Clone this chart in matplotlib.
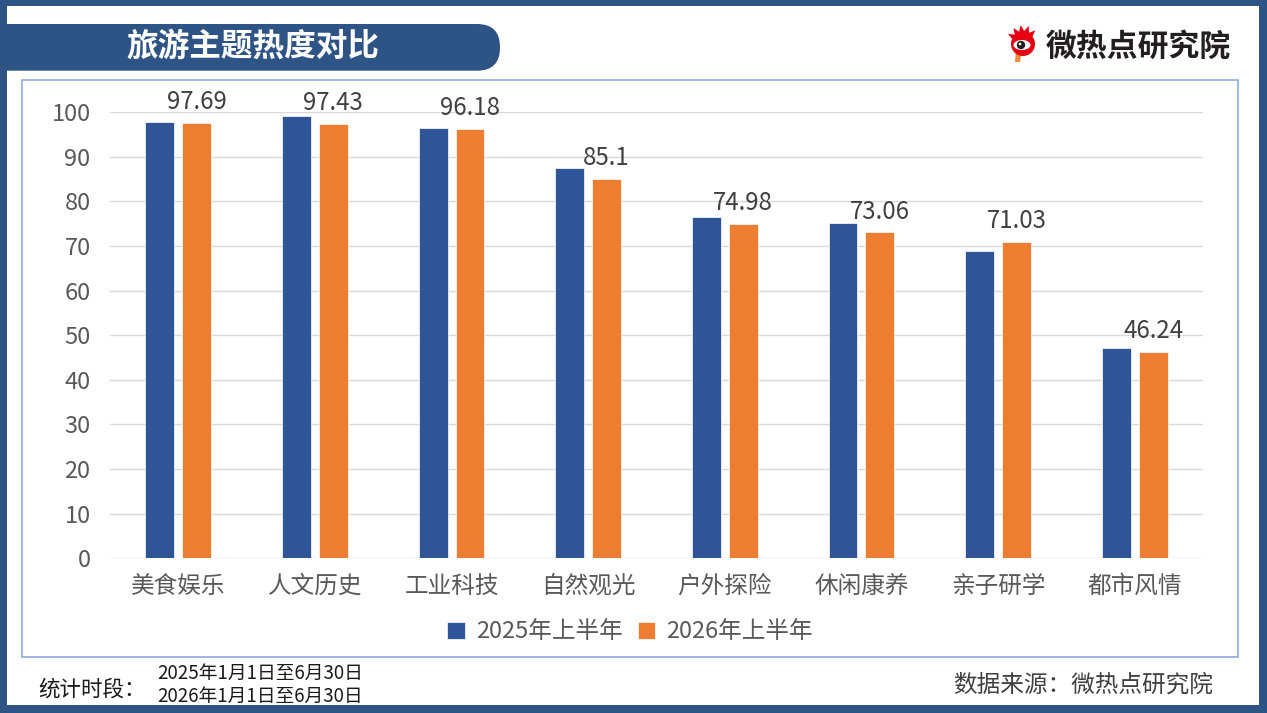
import numpy as np
import matplotlib
matplotlib.use("Agg")
import matplotlib.pyplot as plt
from matplotlib.transforms import Affine2D
from matplotlib.patches import Rectangle, FancyBboxPatch, Polygon, Circle, Ellipse

plt.rcParams['font.family'] = ['Noto Sans CJK SC', 'DejaVu Sans']

categories = ["美食娱乐", "人文历史", "工业科技", "自然观光", "户外探险", "休闲康养", "亲子研学", "都市风情"]
series_names = ["2025年上半年", "2026年上半年"]
values_2025 = [97.9, 99.1, 96.4, 87.5, 76.5, 75.2, 68.9, 47.1]
values_2026 = [97.69, 97.43, 96.18, 85.1, 74.98, 73.06, 71.03, 46.24]
yticks = [0, 10, 20, 30, 40, 50, 60, 70, 80, 90, 100]

title = "旅游主题热度对比"
brand = "微热点研究院"
period_label = "统计时段："
period_lines = ["2025年1月1日至6月30日", "2026年1月1日至6月30日"]
source = "数据来源：微热点研究院"

BLUE = "#2F5597"
ORANGE = "#ED7D31"
DARK = "#2E5385"

W, H = 1267, 713
fig = plt.figure(figsize=(W / 100, H / 100), dpi=100)
fig.patch.set_facecolor("white")
pix = Affine2D().scale(1 / W, -1 / H).translate(0, 1) + fig.transFigure

# Plot area
ax = fig.add_axes([110 / W, 1 - 558.3 / H, (1203 - 110) / W, (558.3 - 112.3) / H])
x = np.arange(len(categories))
bw = 0.212
off = 0.135
b1 = ax.bar(x - off, values_2025, bw, color=BLUE, edgecolor="white", linewidth=0.5, zorder=3,
            label=series_names[0])
b2 = ax.bar(x + off, values_2026, bw, color=ORANGE, edgecolor="white", linewidth=0.5, zorder=3,
            label=series_names[1])
ax.set_xlim(-0.5, len(categories) - 0.5)
ax.set_ylim(0, 100)
ax.set_yticks(yticks)
ax.set_xticks(x)
ax.set_xticklabels(categories)
ax.grid(axis="y", color="#D9D9D9", linewidth=1.0, zorder=0)
ax.set_axisbelow(True)
for s in ax.spines.values():
    s.set_visible(False)
ax.tick_params(axis="both", length=0, labelsize=17, labelcolor="#595959")
ax.tick_params(axis="y", pad=14)
ax.tick_params(axis="x", pad=12)
ax.set_facecolor("none")

for i, v in enumerate(values_2026):
    ax.annotate(f"{v:g}", (i + off, v), xytext=(0, 10), textcoords="offset points",
                ha="center", va="baseline", fontsize=17.3, color="#404040", zorder=4)

fig.legend(handles=[b1, b2], labels=series_names, loc="center",
           bbox_to_anchor=(630 / W, 1 - 632 / H), ncol=2, frameon=False,
           fontsize=17, labelcolor="#595959", handlelength=0.75, handleheight=0.75,
           handletextpad=0.45, columnspacing=0.65)

# Plot frame
fig.add_artist(Rectangle((22, 80), 1238 - 22, 656.7 - 80, transform=pix, fill=False,
                         edgecolor="#8FAADC", linewidth=1.2, zorder=1))

# Title banner
fig.add_artist(FancyBboxPatch((-40, 24), 540, 46.7, boxstyle="round,pad=0,rounding_size=23",
                              transform=pix, facecolor=DARK, edgecolor="none", zorder=2))
fig.text(253, 47, title, transform=pix, ha="center", va="center", fontsize=22.8,
         fontweight="bold", color="white", zorder=3)

# Logo
cx, cy = 1023, 42
angles = np.linspace(np.deg2rad(195), np.deg2rad(330), 11)
pts = []
for k, a in enumerate(angles):
    r = 17 if k % 2 else 11
    pts.append((cx + r * np.cos(a), cy + r * np.sin(a)))
fig.add_artist(Polygon(pts, closed=True, transform=pix, facecolor="#E60012", edgecolor="none", zorder=3))
fig.add_artist(Polygon([(1016, 50), (1022, 50), (1020, 62), (1015, 62)], closed=True, transform=pix,
                       facecolor="#F08A3C", edgecolor="none", zorder=3))
fig.add_artist(Circle((cx, cy + 2), 12, transform=pix, facecolor="#E60012", edgecolor="none", zorder=4))
fig.add_artist(Ellipse((cx - 1, cy + 3), 17, 10, transform=pix, facecolor="white", edgecolor="none", zorder=5))
fig.add_artist(Circle((cx - 2, cy + 3), 4.2, transform=pix, facecolor="#231F20", edgecolor="none", zorder=6))
fig.add_artist(Circle((cx - 3, cy + 2), 1.3, transform=pix, facecolor="white", edgecolor="none", zorder=7))
fig.text(1046, 47, brand, transform=pix, ha="left", va="center", fontsize=22.2,
         fontweight="bold", color="#231F20", zorder=3)

# Footer
fig.text(38, 690, period_label, transform=pix, ha="left", va="center", fontsize=15.5, color="#1A1A1A")
fig.text(157, 673, period_lines[0], transform=pix, ha="left", va="center", fontsize=13.5, color="#1A1A1A")
fig.text(157, 696, period_lines[1], transform=pix, ha="left", va="center", fontsize=13.5, color="#1A1A1A")
fig.text(1213, 685, source, transform=pix, ha="right", va="center", fontsize=17, color="#404040")

# Outer border
for (bx, by, bwid, bh) in [(0, 0, W, 6), (0, 705, W, 8), (0, 0, 7, H), (1259, 0, 8, H)]:
    fig.add_artist(Rectangle((bx, by), bwid, bh, transform=pix, facecolor=DARK,
                             edgecolor="none", zorder=10))

fig.savefig("out.png", dpi=100)
